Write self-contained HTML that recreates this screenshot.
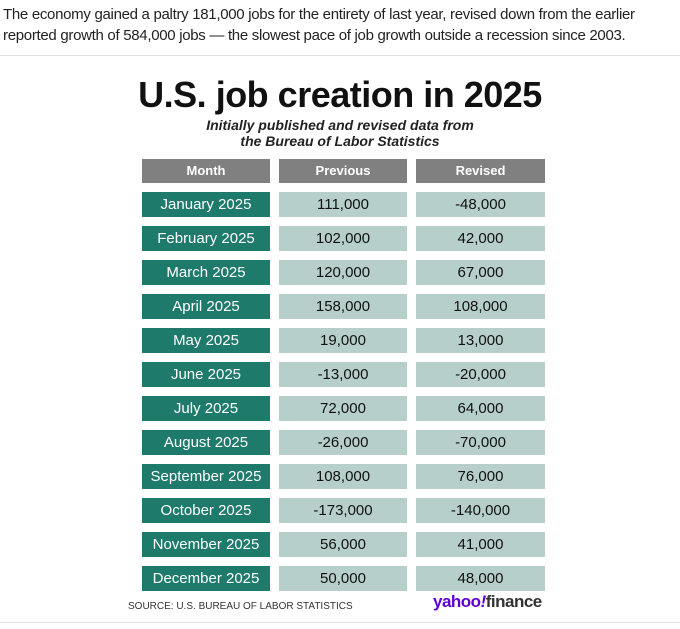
<!DOCTYPE html>
<html><head><meta charset="utf-8"><style>
body{margin:0;width:680px;height:629px;background:#fff;font-family:"Liberation Sans",sans-serif;position:relative;overflow:hidden}
.intro{position:absolute;left:3px;top:4px;font-size:15px;line-height:21px;color:#222;letter-spacing:-0.3px}
.hr{position:absolute;left:0;width:680px;height:1px;background:#e2e2e2}
.title{position:absolute;left:0;width:680px;top:74px;text-align:center;font-size:36px;font-weight:bold;color:#111;letter-spacing:-0.5px}
.sub{position:absolute;left:0;width:680px;top:117px;text-align:center;font-size:14px;line-height:16px;font-style:italic;font-weight:bold;color:#222}
.c{position:absolute;height:25px;line-height:25px;text-align:center;font-size:15px}
.h{background:#808080;color:#fff;font-weight:bold;font-size:13px;height:24px;line-height:24px}
.m{background:#1e7a6a;color:#fff}
.v{background:#b7cfcb;color:#111}
.src{position:absolute;left:128px;top:601px;font-size:10px;color:#333}
.yf{position:absolute;left:433px;top:592px;font-size:17px;font-weight:bold;color:#6001d2;letter-spacing:-0.5px}
.yf span{color:#333}
</style></head><body>
<div class="intro">The economy gained a paltry 181,000 jobs for the entirety of last year, revised down from the earlier<br>reported growth of 584,000 jobs — the slowest pace of job growth outside a recession since 2003.</div>
<div class="hr" style="top:55px"></div>
<div class="title">U.S. job creation in 2025</div>
<div class="sub">Initially published and revised data from<br>the Bureau of Labor Statistics</div>
<div class="c h" style="left:142px;width:128px;top:159px">Month</div>
<div class="c h" style="left:279px;width:128px;top:159px">Previous</div>
<div class="c h" style="left:416px;width:129px;top:159px">Revised</div>
<div id="rows"></div>
<div class="src">SOURCE: U.S. BUREAU OF LABOR STATISTICS</div>
<div class="yf">yahoo<i>!</i><span>finance</span></div>
<div class="hr" style="top:622px"></div>
<div class="c m" style="left:142px;width:128px;top:192px">January 2025</div><div class="c v" style="left:279px;width:128px;top:192px">111,000</div><div class="c v" style="left:416px;width:129px;top:192px">-48,000</div>
<div class="c m" style="left:142px;width:128px;top:226px">February 2025</div><div class="c v" style="left:279px;width:128px;top:226px">102,000</div><div class="c v" style="left:416px;width:129px;top:226px">42,000</div>
<div class="c m" style="left:142px;width:128px;top:260px">March 2025</div><div class="c v" style="left:279px;width:128px;top:260px">120,000</div><div class="c v" style="left:416px;width:129px;top:260px">67,000</div>
<div class="c m" style="left:142px;width:128px;top:294px">April 2025</div><div class="c v" style="left:279px;width:128px;top:294px">158,000</div><div class="c v" style="left:416px;width:129px;top:294px">108,000</div>
<div class="c m" style="left:142px;width:128px;top:328px">May 2025</div><div class="c v" style="left:279px;width:128px;top:328px">19,000</div><div class="c v" style="left:416px;width:129px;top:328px">13,000</div>
<div class="c m" style="left:142px;width:128px;top:362px">June 2025</div><div class="c v" style="left:279px;width:128px;top:362px">-13,000</div><div class="c v" style="left:416px;width:129px;top:362px">-20,000</div>
<div class="c m" style="left:142px;width:128px;top:396px">July 2025</div><div class="c v" style="left:279px;width:128px;top:396px">72,000</div><div class="c v" style="left:416px;width:129px;top:396px">64,000</div>
<div class="c m" style="left:142px;width:128px;top:430px">August 2025</div><div class="c v" style="left:279px;width:128px;top:430px">-26,000</div><div class="c v" style="left:416px;width:129px;top:430px">-70,000</div>
<div class="c m" style="left:142px;width:128px;top:464px">September 2025</div><div class="c v" style="left:279px;width:128px;top:464px">108,000</div><div class="c v" style="left:416px;width:129px;top:464px">76,000</div>
<div class="c m" style="left:142px;width:128px;top:498px">October 2025</div><div class="c v" style="left:279px;width:128px;top:498px">-173,000</div><div class="c v" style="left:416px;width:129px;top:498px">-140,000</div>
<div class="c m" style="left:142px;width:128px;top:532px">November 2025</div><div class="c v" style="left:279px;width:128px;top:532px">56,000</div><div class="c v" style="left:416px;width:129px;top:532px">41,000</div>
<div class="c m" style="left:142px;width:128px;top:566px">December 2025</div><div class="c v" style="left:279px;width:128px;top:566px">50,000</div><div class="c v" style="left:416px;width:129px;top:566px">48,000</div>
</body></html>
